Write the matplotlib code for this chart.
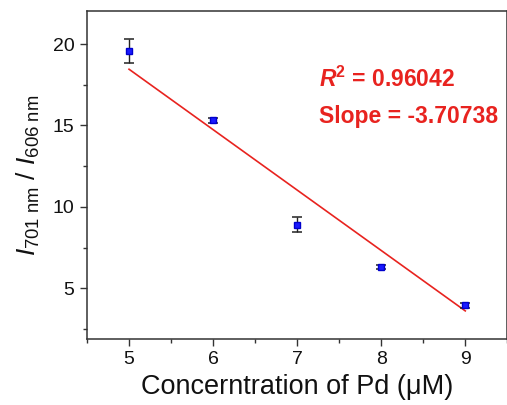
import numpy as np
import matplotlib
matplotlib.use("Agg")
import matplotlib.pyplot as plt
from matplotlib.ticker import MultipleLocator

# Data
conc = [5, 6, 7, 8, 9]
ratio = [19.57, 15.33, 8.90, 6.32, 3.97]
err = [0.72, 0.16, 0.46, 0.14, 0.16]
fit_slope = -3.70738
fit_intercept = 36.99
x_ticks = [5, 6, 7, 8, 9]
y_ticks = [5, 10, 15, 20]
r2_text = "0.96042"
slope_text = "-3.70738"

plt.rcParams['font.family'] = ['Liberation Sans', 'DejaVu Sans']
plt.rcParams['mathtext.fontset'] = 'custom'
plt.rcParams['mathtext.rm'] = 'Liberation Sans'
plt.rcParams['mathtext.it'] = 'Liberation Sans:italic'
plt.rcParams['mathtext.bf'] = 'Liberation Sans:bold'
plt.rcParams['mathtext.bfit'] = 'Liberation Sans:italic:bold'

fig = plt.figure(figsize=(5.07, 4.05), dpi=100)
ax = fig.add_axes([0.1716, 0.163, 0.829, 0.81])

# Linear fit line
xf = np.array([conc[0], conc[-1]])
ax.plot(xf, fit_slope * xf + fit_intercept, color='#e8231f', lw=1.2, zorder=2)

ax.errorbar(conc, ratio, yerr=err, fmt='s', color='#1a1aff', mec='#0000cc',
            markersize=5, ecolor='#222222', elinewidth=1.0, capsize=3.8,
            capthick=1.1, zorder=3)

ax.set_xlim(4.5, 9.5)
ax.set_ylim(1.9, 22.03)
ax.set_xticks(x_ticks)
ax.set_yticks(y_ticks)
ax.xaxis.set_minor_locator(MultipleLocator(0.5))
ax.yaxis.set_minor_locator(MultipleLocator(2.5))
ax.tick_params(which='major', direction='out', length=5, width=1.0,
               labelsize=14, color='#333333', labelcolor='#111111', pad=4)
ax.tick_params(which='minor', direction='out', length=3, width=1.0, color='#333333')

for s in ['left', 'bottom', 'top', 'right']:
    ax.spines[s].set_color('#333333')
    ax.spines[s].set_linewidth(1.1)

ax.set_xlabel('Concerntration of Pd (μM)', fontsize=19.5, color='#111111')
ax.xaxis.set_label_coords(0.5, -0.108)
ax.set_ylabel(r'$I_{\mathrm{701\ nm}}$ / $I_{\mathrm{606\ nm}}$', fontsize=19,
              color='#111111', labelpad=8)

ax.text(0.553, 0.768, r'$\mathbfit{R}^{\mathbf{2}}$' + ' = ' + r2_text,
        transform=ax.transAxes, color='#e8231f', fontsize=16.5, fontweight='bold',
        ha='left', va='baseline')
ax.text(0.553, 0.659, 'Slope = ' + slope_text,
        transform=ax.transAxes, color='#e8231f', fontsize=16.5, fontweight='bold',
        ha='left', va='baseline')

fig.savefig('out.png', dpi=100)
